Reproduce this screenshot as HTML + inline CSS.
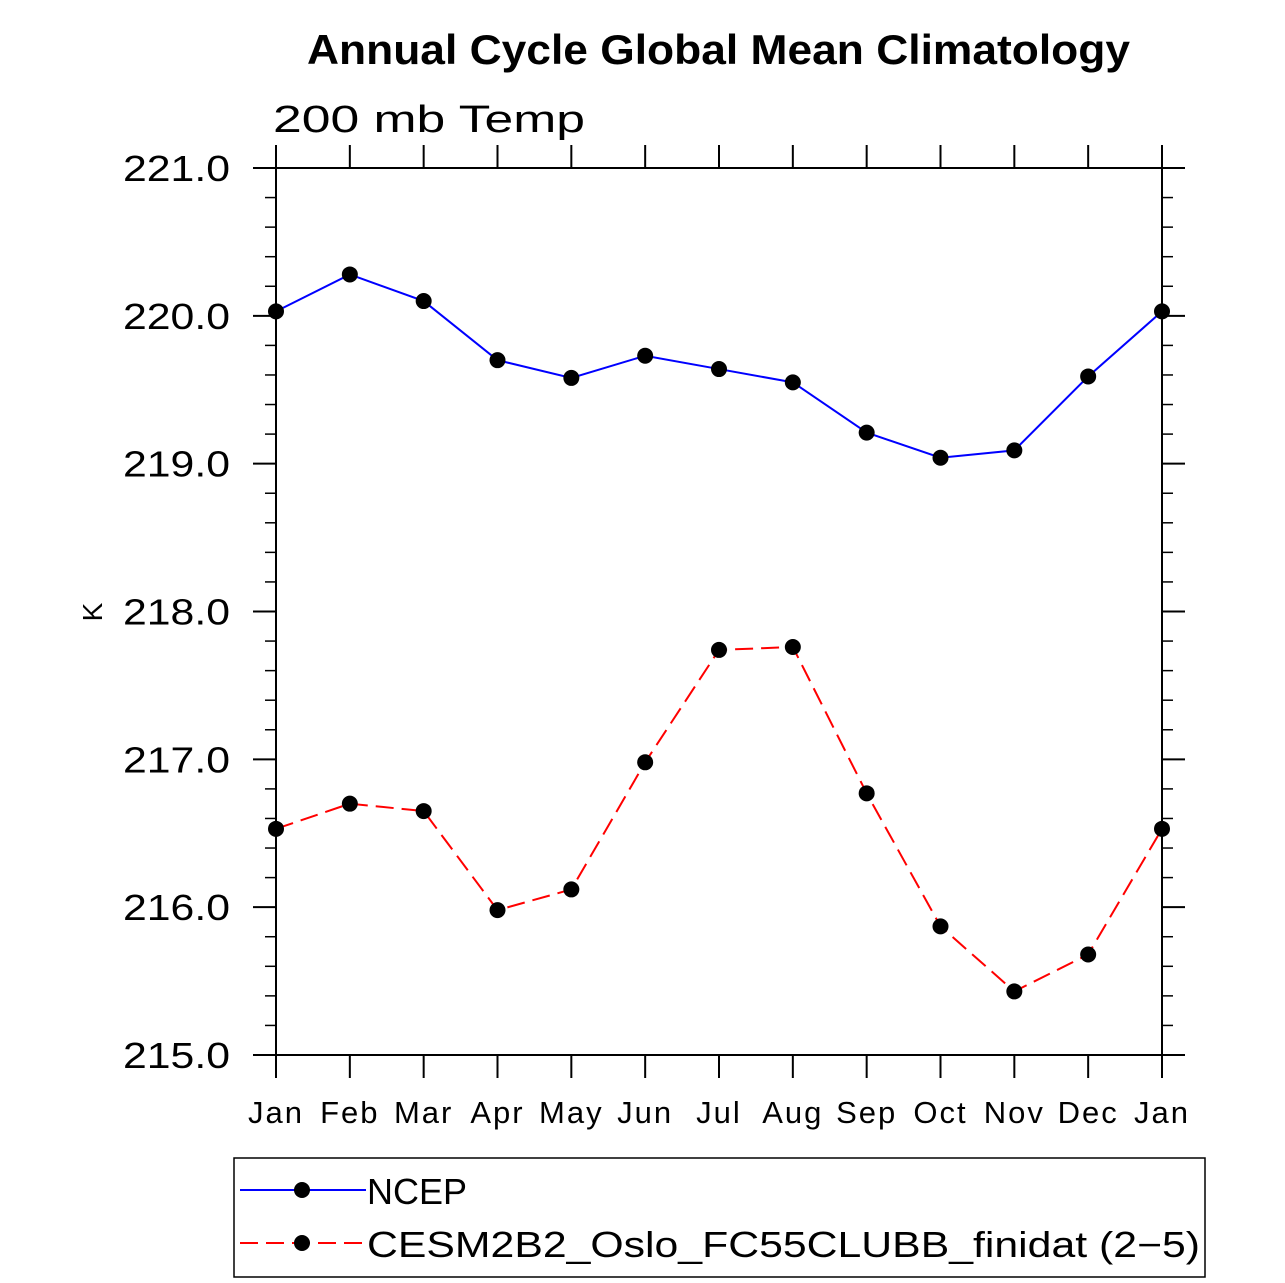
<!DOCTYPE html>
<html><head><meta charset="utf-8"><style>
body{margin:0;background:#fff}
svg{display:block;font-family:"Liberation Sans","DejaVu Sans",sans-serif}
</style></head><body>
<svg id="chart" width="1285" height="1283" viewBox="0 0 1285 1283" xmlns="http://www.w3.org/2000/svg">
<text x="307" y="64" font-size="42" font-weight="bold" textLength="823" lengthAdjust="spacingAndGlyphs">Annual Cycle Global Mean Climatology</text>
<text x="273" y="132" font-size="38" textLength="312" lengthAdjust="spacingAndGlyphs">200 mb Temp</text>
<text transform="translate(102,612) rotate(-90)" text-anchor="middle" font-size="28">K</text>
<g id="axes"></g>
<g id="series"></g>
<g>
<rect x="234" y="1158" width="971" height="119" fill="none" stroke="#000" stroke-width="1.5"/>
<g>
<line x1="240" y1="1190" x2="366" y2="1190" stroke="#0000ff" stroke-width="2"/>
<circle cx="302" cy="1190" r="8"/>
<text x="367" y="1204" font-size="36" textLength="100" lengthAdjust="spacingAndGlyphs">NCEP</text>
</g>
<g>
<line x1="240" y1="1243" x2="366" y2="1243" stroke="#ff0000" stroke-width="2" stroke-dasharray="18,8"/>
<circle cx="302" cy="1243" r="8"/>
<text x="367" y="1257" font-size="36" textLength="833" lengthAdjust="spacingAndGlyphs">CESM2B2_Oslo_FC55CLUBB_finidat (2−5)</text>
</g>
</g>
</svg>
<script>
const months=["Jan","Feb","Mar","Apr","May","Jun","Jul","Aug","Sep","Oct","Nov","Dec","Jan"];
const ncep=[220.03,220.28,220.10,219.70,219.58,219.73,219.64,219.55,219.21,219.04,219.09,219.59,220.03];
const cesm=[216.53,216.70,216.65,215.98,216.12,216.98,217.74,217.76,216.77,215.87,215.43,215.68,216.53];
const yTicks=[215,216,217,218,219,220,221];
const yTickLabels=["215.0","216.0","217.0","218.0","219.0","220.0","221.0"];
const NS="http://www.w3.org/2000/svg";
const X0=276,X1=1162,Y0=1055,Y1=168,ymin=215,ymax=221;
const xs=i=>X0+(X1-X0)*i/(months.length-1);
const ys=v=>Y0-(v-ymin)/(ymax-ymin)*(Y0-Y1);
function mk(t,a,p){const e=document.createElementNS(NS,t);for(const k in a)e.setAttribute(k,a[k]);p.appendChild(e);return e;}
const ax=document.getElementById('axes');
const fr=mk('rect',{x:X0,y:Y1,width:X1-X0,height:Y0-Y1,fill:'none',stroke:'#000','stroke-width':2},ax);


for(let i=0;i<yTicks.length;i++){
 const y=ys(yTicks[i]);
 mk('line',{x1:X0-23,y1:y,x2:X0,y2:y,stroke:'#000','stroke-width':2},ax);
 mk('line',{x1:X1,y1:y,x2:X1+23,y2:y,stroke:'#000','stroke-width':2},ax);
 const t=mk('text',{x:123,y:y+13,'font-size':36,textLength:107,lengthAdjust:'spacingAndGlyphs'},ax);
 t.textContent=yTickLabels[i];
 
 
 if(i<yTicks.length-1){for(let m=1;m<5;m++){const ym=ys(yTicks[i]+m*0.2);
  mk('line',{x1:X0-11,y1:ym,x2:X0,y2:ym,stroke:'#000','stroke-width':1.5},ax);
  mk('line',{x1:X1,y1:ym,x2:X1+11,y2:ym,stroke:'#000','stroke-width':1.5},ax);}}
}
months.forEach((m,i)=>{
 const x=xs(i);
 mk('line',{x1:x,y1:Y0,x2:x,y2:Y0+23,stroke:'#000','stroke-width':2},ax);
 mk('line',{x1:x,y1:Y1-23,x2:x,y2:Y1,stroke:'#000','stroke-width':2},ax);
 const t=mk('text',{x:x,y:1123,'text-anchor':'middle','font-size':31,'letter-spacing':2},ax);
 t.textContent=m;
 
 
});
const sg=document.getElementById('series');
function draw(vals,color,dash,name){
 const p=mk('polyline',{points:vals.map((v,i)=>xs(i)+','+ys(v)).join(' '),fill:'none',stroke:color,'stroke-width':2,'stroke-dasharray':dash},sg);
 
 
 vals.forEach((v,i)=>{const c=mk('circle',{cx:xs(i),cy:ys(v),r:8,fill:'#000'},sg);
  
  });
}
draw(ncep,'#0000ff','none','ncep');
draw(cesm,'#ff0000','18,8','cesm');
</script>
</body></html>
